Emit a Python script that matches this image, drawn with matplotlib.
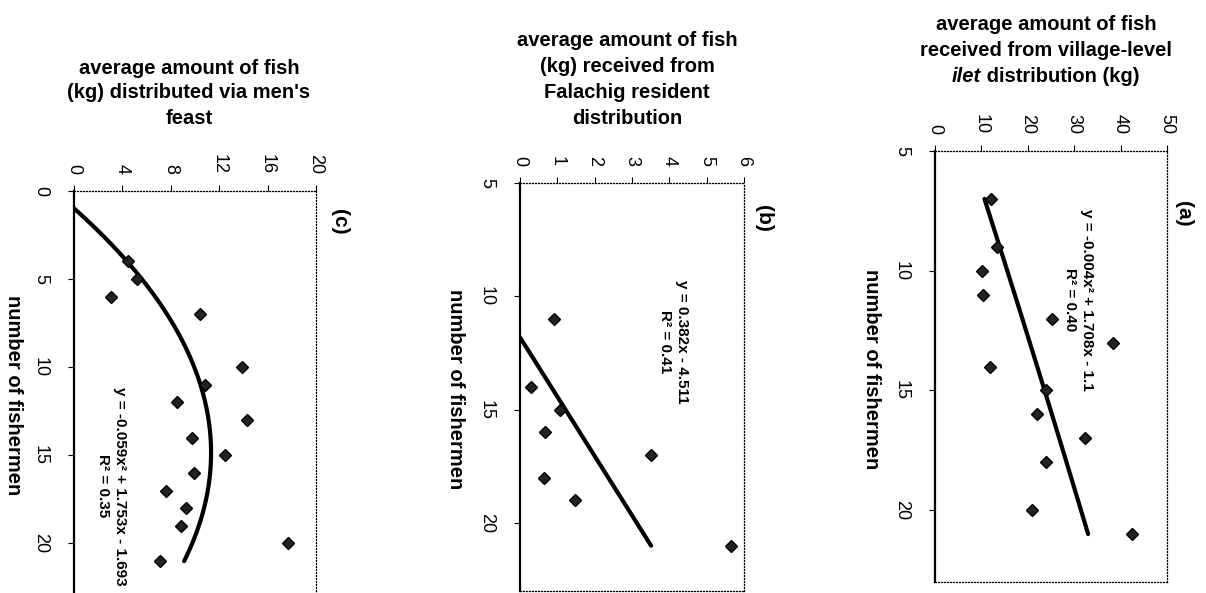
import numpy as np
import matplotlib.pyplot as plt

plt.rcParams['font.family'] = ['Liberation Sans', 'DejaVu Sans']

W, H = 1206, 593

# (a) village-level ilet distribution
fishers_a = [7, 9, 10, 11, 12, 13, 14, 15, 16, 17, 18, 20, 21]
fish_a = [12.1, 13.3, 10.1, 10.4, 25.3, 38.4, 11.8, 24.0, 22.0, 32.3, 24.0, 20.8, 42.4]
coef_a = [-0.004, 1.708, -1.1]
span_a = [7, 21]
eq_a = 'y = -0.004x² + 1.708x - 1.1\nR² = 0.40'

# (b) Falachig resident distribution
fishers_b = [11, 14, 15, 16, 17, 18, 19, 21]
fish_b = [0.91, 0.29, 1.07, 0.66, 3.52, 0.64, 1.47, 5.64]
coef_b = [0.382, -4.511]
span_b = [11.81, 21]
eq_b = 'y = 0.382x - 4.511\nR² = 0.41'

# (c) men's feast
fishers_c = [4, 5, 6, 7, 10, 11, 12, 13, 14, 15, 16, 17, 18, 19, 20, 21]
fish_c = [4.5, 5.2, 3.06, 10.4, 13.9, 10.8, 8.5, 14.3, 9.74, 12.5, 9.9, 7.6, 9.27, 8.83, 17.7, 7.1]
coef_c = [-0.059, 1.753, -1.693]
span_c = [1.0, 21]
eq_c = 'y = -0.059x² + 1.753x - 1.693\nR² = 0.35'

fig = plt.figure(figsize=(W / 100, H / 100), dpi=100)


def add_panel(l, t, r, b):
    return fig.add_axes([l / W, 1 - b / H, (r - l) / W, (b - t) / H])


def draw_panel(ax, fishers, fish, coef, span, eq, eq_pos, xmax, xstep, ymin, tag, tag_pos, lab_x):
    xs = np.linspace(span[0], span[1], 200)
    ax.plot(np.polyval(coef, xs), xs, color='black', lw=3, solid_capstyle='round')
    ax.plot(fish, fishers, 'D', color='black', ms=6.5, mec='black', mfc='#222222')

    ax.set_xlim(0, xmax)
    ax.set_ylim(23, ymin)
    ax.set_xticks(np.arange(0, xmax + 0.01, xstep))
    ax.set_yticks(np.arange(ymin, 21, 5))
    ax.set_xticklabels([str(int(v)) for v in ax.get_xticks()])
    ax.xaxis.tick_top()
    ax.tick_params(axis='x', labelrotation=-90, labelsize=13, length=4, pad=8, direction='out')
    ax.tick_params(axis='y', labelrotation=-90, labelsize=13, length=4, pad=14, direction='out')
    for lbl in ax.get_yticklabels():
        lbl.set_va('center')

    ax.spines['left'].set_linewidth(1.6)
    for side in ['top', 'right', 'bottom']:
        ax.spines[side].set_linestyle((0, (0.8, 1.6)))
        ax.spines[side].set_linewidth(0.9)

    ax.text(eq_pos[0], eq_pos[1], eq, rotation=-90, ha='center', va='center',
            multialignment='center', fontsize=11, fontweight='bold', linespacing=1.3)
    ax.text(tag_pos[0], tag_pos[1], tag, transform=ax.transAxes, rotation=-90,
            ha='center', va='center', fontsize=15, fontweight='bold')
    ax.text(lab_x, 0.495, 'number of fishermen', transform=ax.transAxes, rotation=-90,
            ha='center', va='center', fontsize=14.5, fontweight='bold')


ax_a = add_panel(935, 151, 1167, 582)
draw_panel(ax_a, fishers_a, fish_a, coef_a, span_a, eq_a, (30.9, 11.2), 50, 10, 5,
           '(a)', (1.069, 0.854), -0.272)

ax_b = add_panel(520, 183, 744, 591)
draw_panel(ax_b, fishers_b, fish_b, coef_b, span_b, eq_b, (4.12, 12.0), 6, 1, 5,
           '(b)', (1.086, 0.914), -0.29)

ax_c = add_panel(74, 190.7, 316, 596.4)
draw_panel(ax_c, fishers_c, fish_c, coef_c, span_c, eq_c, (3.12, 16.74), 20, 4, 0,
           '(c)', (1.099, 0.923), -0.252)

# axis titles (the original y labels, horizontal after the page rotation)
title_kw = dict(ha='center', va='center', fontsize=14.5, fontweight='bold')
for line, y in zip(['average amount of fish', 'received from village-level'], [25, 50]):
    fig.text(1046 / W, 1 - y / H, line, **title_kw)

renderer = fig.canvas.get_renderer()
t1 = fig.text(0, 1 - 76 / H, 'ilet', ha='left', va='center', fontsize=14.5,
              fontweight='bold', style='italic')
t2 = fig.text(0, 1 - 76 / H, ' distribution (kg)', ha='left', va='center',
              fontsize=14.5, fontweight='bold')
w1 = t1.get_window_extent(renderer).width
w2 = t2.get_window_extent(renderer).width
x0 = 1046 - (w1 + w2) / 2
t1.set_x(x0 / W)
t2.set_x((x0 + w1) / W)

for line, y in zip(['average amount of fish', '(kg) received from',
                    'Falachig resident', 'distribution'], [40, 67, 93, 118]):
    fig.text(627 / W, 1 - y / H, line, **title_kw)

for line, y in zip(['average amount of fish', "(kg) distributed via men's",
                    'feast'], [68, 93, 119]):
    fig.text(189 / W, 1 - y / H, line, **title_kw)

fig.savefig('out.png', dpi=100, facecolor='white')
